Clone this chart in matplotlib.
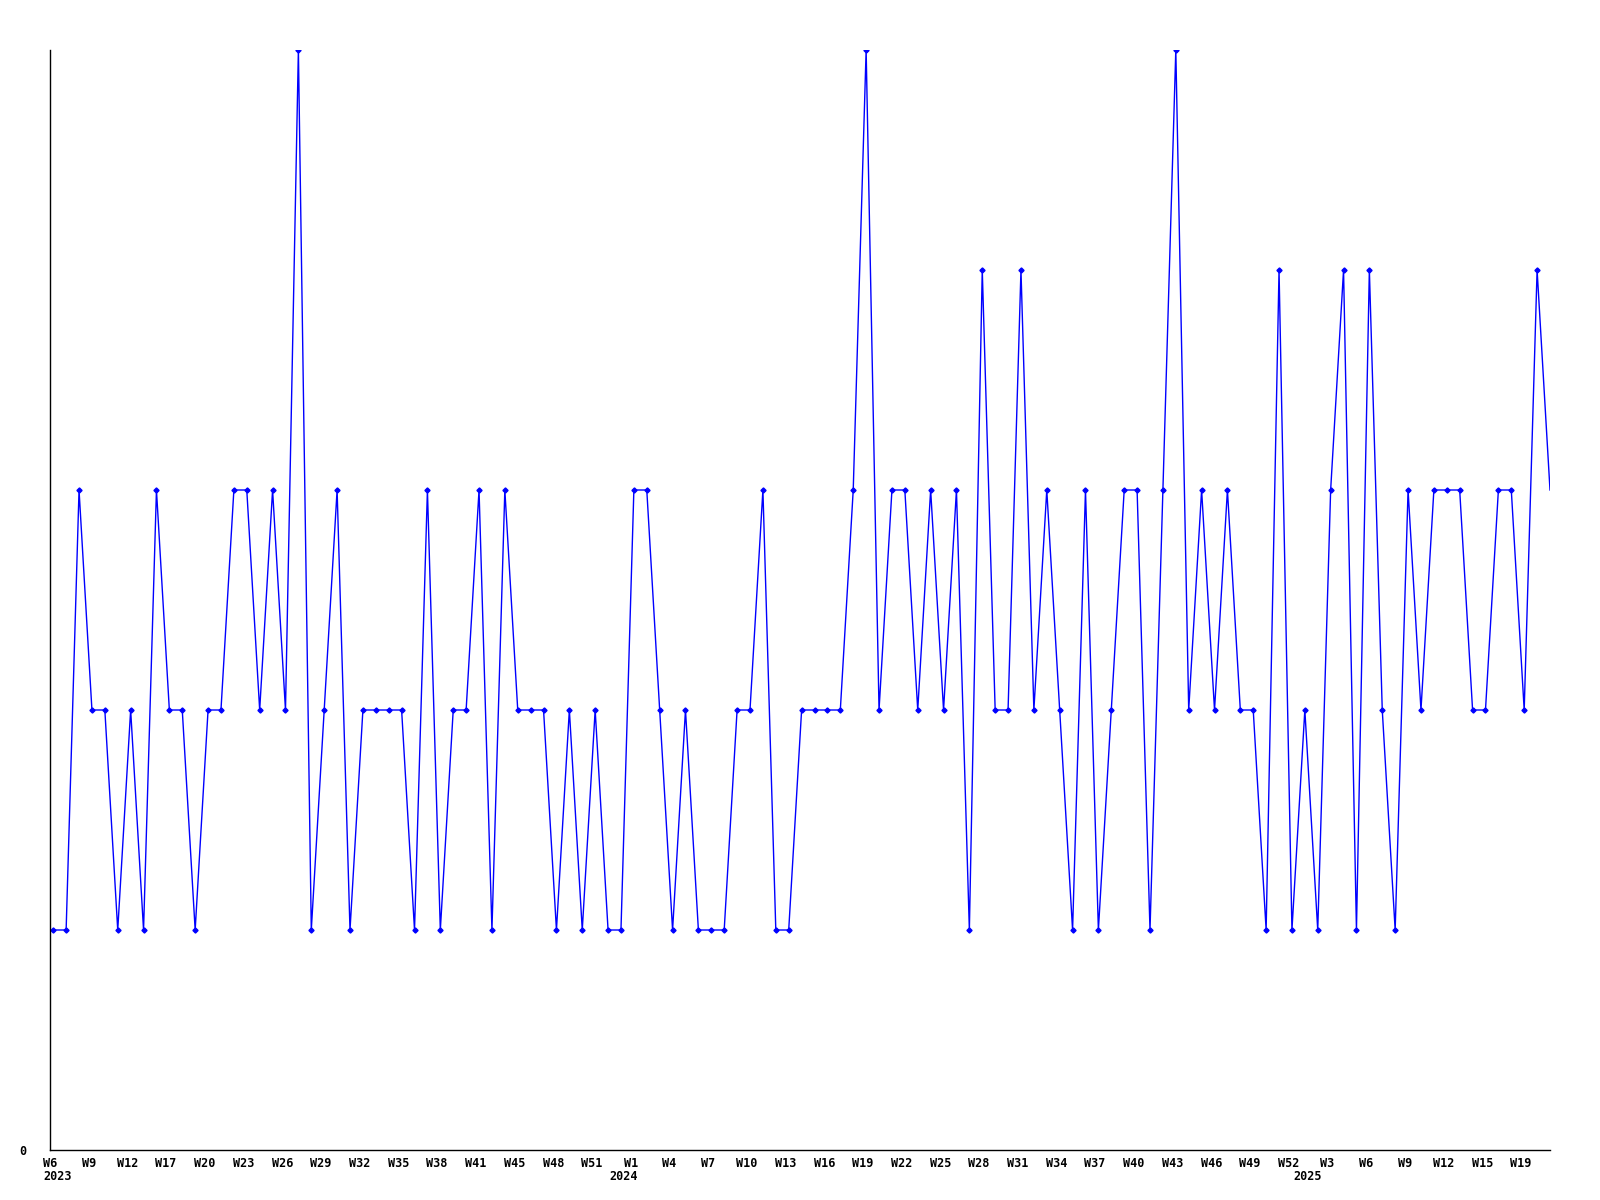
import numpy as np
import matplotlib
matplotlib.use("Agg")
import matplotlib.pyplot as plt
import matplotlib.transforms as mtransforms

# weekly values, one per week
values = [1, 1, 3, 2, 2, 1, 2, 1, 3, 2, 2, 1, 2, 2, 3, 3, 2, 3, 2, 5,
          1, 2, 3, 1, 2, 2, 2, 2, 1, 3, 1, 2, 2, 3, 1, 3, 2, 2, 2, 1,
          2, 1, 2, 1, 1, 3, 3, 2, 1, 2, 1, 1, 1, 2, 2, 3, 1, 1, 2, 2,
          2, 2, 3, 5, 2, 3, 3, 2, 3, 2, 3, 1, 4, 2, 2, 4, 2, 3, 2, 1,
          3, 1, 2, 3, 3, 1, 3, 5, 2, 3, 2, 3, 2, 2, 1, 4, 1, 2, 1, 3,
          4, 1, 4, 2, 1, 3, 2, 3, 3, 3, 2, 2, 3, 3, 2, 4, 3]

# one label every third week
week_labels = ["W6", "W9", "W12", "W17", "W20", "W23", "W26", "W29", "W32",
               "W35", "W38", "W41", "W45", "W48", "W51", "W1", "W4", "W7",
               "W10", "W13", "W16", "W19", "W22", "W25", "W28", "W31", "W34",
               "W37", "W40", "W43", "W46", "W49", "W52", "W3", "W6", "W9",
               "W12", "W15", "W19"]
years = ["2023", "2024", "2025"]

x = np.arange(len(values))

fig = plt.figure(figsize=(16, 12), dpi=100)
ax = fig.add_axes([50 / 1600, 50 / 1200, 1500 / 1600, 1100 / 1200])

# last point is the running week: line only, no marker
ax.plot(x, values, color="#0000ff", lw=1.0)
ax.plot(x[:-1], values[:-1], ls="none", marker="D", ms=2.6,
        color="#0000ff", mec="#0000ff")

ax.set_xlim(0, len(values) - 1)
ax.set_ylim(0, 5)

font = dict(family="DejaVu Sans Mono", weight="bold", size=8.5)

ax.set_xticks(x[::3] - 0.25)
ax.set_xticklabels(week_labels, **font)
ax.set_yticks([0])
ax.set_yticklabels(["0"], **font)
ax.tick_params(axis="x", length=0, pad=5)
ax.tick_params(axis="y", length=0, pad=17)

# year markers under the week labels
trans = mtransforms.blended_transform_factory(ax.transData, ax.transAxes)
ax.text(-0.75, -0.0245, years[0], transform=trans, ha="left", va="center", **font)
ax.text(44.2, -0.0245, years[1], transform=trans, ha="center", va="center", **font)
ax.text(97.2, -0.0245, years[2], transform=trans, ha="center", va="center", **font)

for side in ["top", "right"]:
    ax.spines[side].set_visible(False)
for side in ["left", "bottom"]:
    ax.spines[side].set_color("black")
    ax.spines[side].set_linewidth(1.0)

fig.savefig("out.png", dpi=100, facecolor="white")
